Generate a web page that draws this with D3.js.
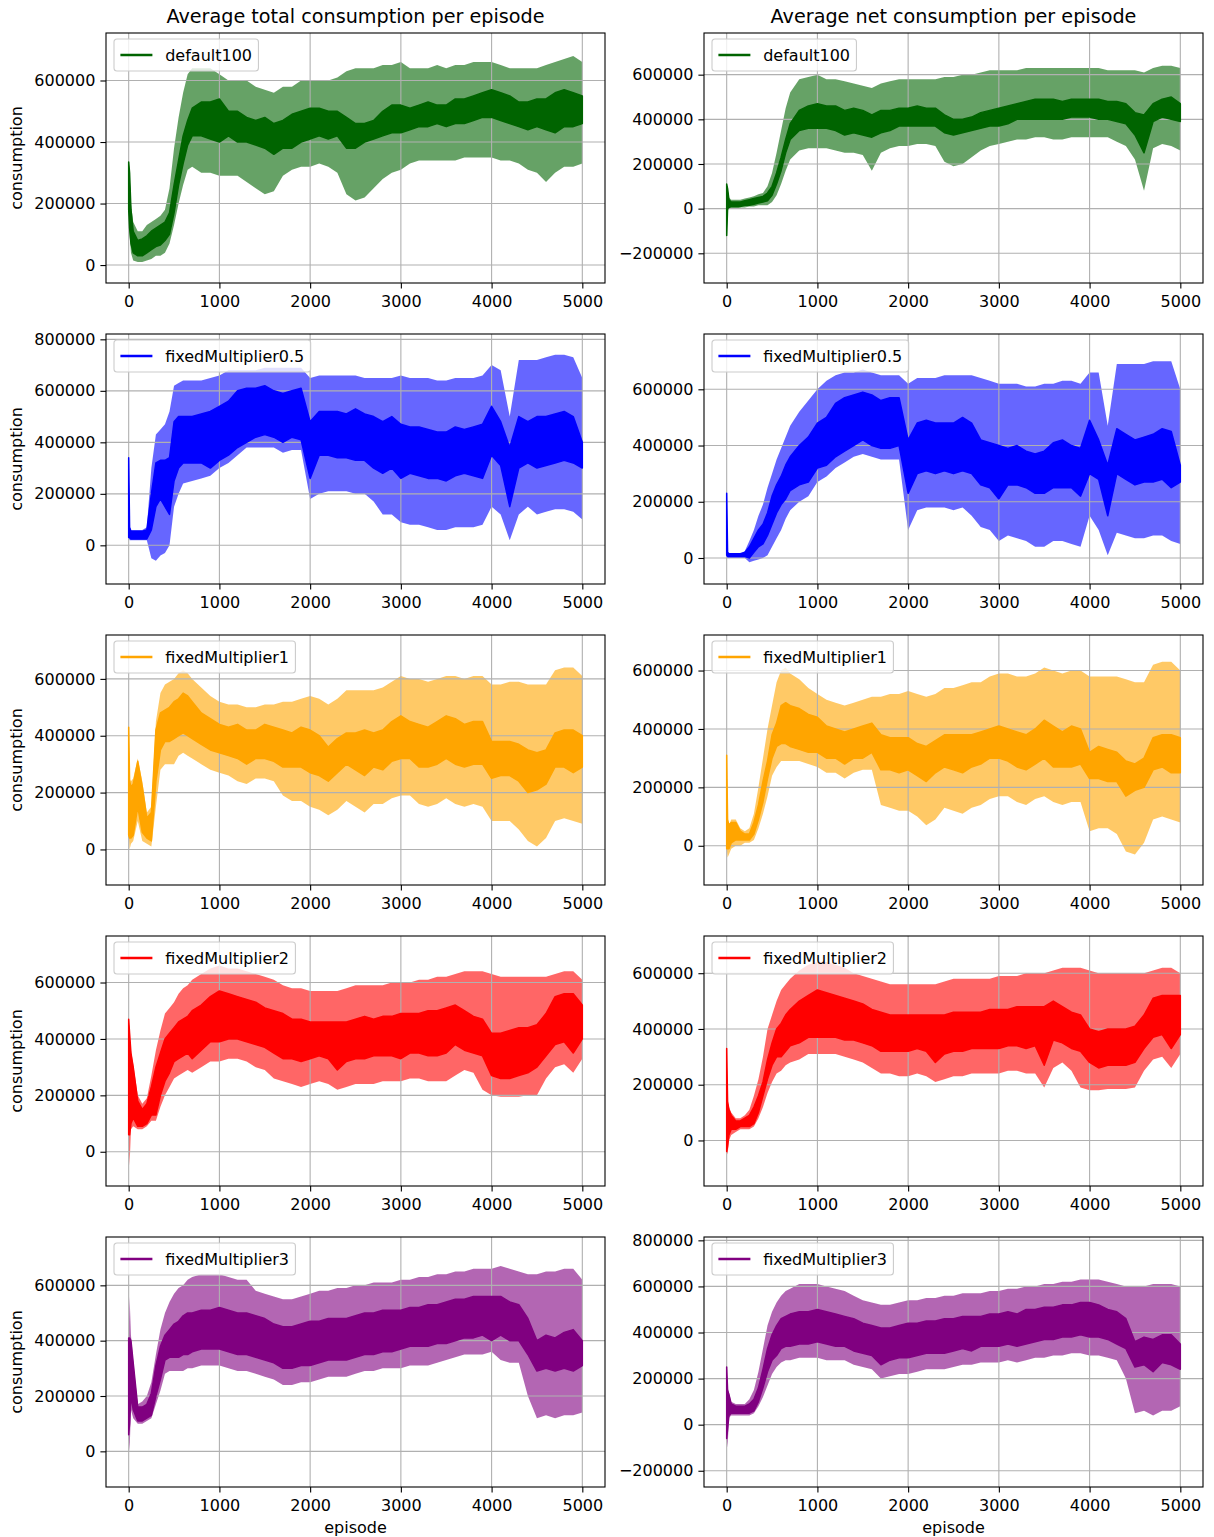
<!DOCTYPE html>
<html>
<head>
<meta charset="utf-8">
<script src="https://cdn.jsdelivr.net/npm/d3@7"></script>
<style>
  body { margin: 0; background: #fff; }
  svg text { font-family: "DejaVu Sans", sans-serif; fill: #000; }
</style>
</head>
<body>
<script>
// episode positions the values were read at
const episodes = [0,10,25,50,100,150,200,250,300,350,400,450,500,550,600,650,700,
  800,900,1000,1100,1200,1300,1400,1500,1600,1700,1800,1900,2000,2100,2200,2300,2400,2500,
  2600,2700,2800,2900,3000,3100,3200,3300,3400,3500,3600,3700,3800,3900,4000,4100,4200,4300,
  4400,4500,4600,4700,4800,4900,5000];

// all values in thousands
// total consumption, default100
const totalD100LineLo = [180,120,70,40,30,30,40,50,60,65,80,100,170,260,330,390,420, 420,410,400,420,400,400,390,380,360, 380,380,400,410,420,410,420,380,380, 400,410,420,430,430,440,450,450,460, 450,460,460,470,480,480,470,460,450, 440,450,440,430,450,450,460];
const totalD100LineHi = [335,300,180,110,80,85,95,110,120,130,140,170,260,340,420,470,510, 530,530,540,500,500,480,470,480,460, 470,490,500,510,510,500,500,480,460, 460,470,500,520,520,510,520,530,520, 520,540,540,550,560,570,560,550,530, 530,540,540,560,570,560,550];
const totalD100BandLo = [180,100,40,15,10,10,15,20,30,30,40,70,130,200,260,310,320, 300,300,290,290,290,270,250,230,240, 290,310,320,320,330,320,300,230,210, 220,250,280,300,310,330,340,340,340, 340,340,350,350,350,350,340,340,330, 310,300,270,300,320,320,330];
const totalD100BandHi = [340,300,200,140,110,110,130,140,150,160,180,250,380,480,560,620,640, 640,640,620,600,600,600,580,570,560, 580,580,600,600,600,600,610,630,640, 640,640,650,650,660,640,640,640,650, 640,650,650,660,660,660,650,640,640, 640,640,650,660,670,680,660];

// net consumption, default100
const netD100LineLo = [-120,0,5,10,10,10,15,15,20,25,30,35,60,110,170,250,310, 350,360,360,360,350,330,340,330,320, 340,350,370,370,370,370,370,340,330, 340,350,360,370,370,380,400,400,400, 400,400,400,410,410,410,400,400,390, 380,330,250,390,410,400,390];
const netD100LineHi = [110,90,40,30,30,30,35,40,45,50,55,70,100,160,230,310,380, 440,460,470,460,460,440,450,440,420, 440,440,450,450,460,450,450,420,400, 400,410,430,440,450,460,470,480,490, 490,490,480,490,490,490,490,480,480, 470,430,420,470,490,500,470];
const netD100BandLo = [-120,-10,0,0,0,5,5,10,10,15,15,15,30,60,110,170,220, 260,270,270,270,260,250,250,240,170, 250,270,280,280,290,290,280,210,190, 200,230,260,280,290,300,310,310,320, 320,310,310,320,320,320,320,320,300, 280,220,80,270,290,280,260];
const netD100BandHi = [110,90,50,40,40,40,45,50,55,65,70,100,160,250,350,450,520, 580,590,600,580,580,570,560,550,540, 560,570,580,580,580,580,580,590,590, 600,600,610,620,620,620,620,630,630, 630,630,630,630,630,630,630,620,620, 620,620,610,630,640,640,630];

// total consumption, fixedMultiplier0.5
const totalM05LineLo = [30,30,25,25,25,25,25,60,150,180,150,120,250,300,320,320,320, 320,300,330,350,380,400,420,430,420, 400,420,410,260,350,350,340,340,330, 330,300,280,300,260,280,270,260,260, 250,270,280,270,260,350,310,150,300, 320,300,310,320,330,320,300];
const totalM05LineHi = [340,70,55,55,55,55,60,200,320,330,330,340,480,500,500,500,500, 510,520,540,560,600,610,610,620,600, 590,600,610,480,520,520,520,510,530, 510,500,480,500,470,460,460,450,440, 440,460,450,460,470,540,480,380,500, 480,500,500,510,520,500,400];
const totalM05BandLo = [30,20,20,20,20,20,20,-50,-60,-40,-30,0,150,200,240,245,250, 260,270,300,320,350,380,380,380,380, 360,370,370,180,200,210,210,210,200, 200,170,120,120,90,80,80,70,60, 60,70,70,70,80,150,120,20,120, 150,120,130,140,140,130,100];
const totalM05BandHi = [340,70,60,60,60,60,70,300,430,450,470,520,620,630,640,640,640, 640,650,660,680,680,680,680,690,690, 690,690,690,650,660,660,660,660,660, 650,650,650,650,660,650,650,650,640, 640,650,650,650,660,700,680,500,720, 720,720,730,740,740,730,650];

// net consumption, fixedMultiplier0.5
const netM05LineLo = [10,5,5,5,5,5,5,0,20,40,50,80,120,160,190,210,240, 260,270,320,330,360,380,400,420,400, 390,390,400,230,300,310,300,310,300, 310,300,260,250,210,260,260,250,230, 230,250,250,250,220,300,280,150,300, 280,260,270,270,280,250,270];
const netM05LineHi = [230,20,15,15,15,15,20,40,70,100,120,160,220,260,290,330,360, 400,430,480,500,550,570,580,590,580, 560,570,570,420,480,490,480,480,480, 500,480,420,410,400,390,400,380,370, 380,410,420,400,390,490,420,330,460, 440,420,430,440,460,450,330];
const netM05BandLo = [10,0,0,0,0,0,0,-15,-10,-5,0,10,40,70,100,140,170, 200,220,270,290,320,340,360,370,360, 350,350,350,100,170,180,180,180,170, 180,150,110,100,60,80,70,60,40, 40,60,60,50,40,150,100,10,90, 80,70,70,80,80,60,50];
const netM05BandHi = [230,20,15,15,15,15,25,60,100,150,190,250,300,350,390,430,470, 520,560,600,630,650,660,660,670,660, 650,650,650,620,640,640,640,650,650, 650,650,640,630,620,620,620,610,610, 620,620,630,630,620,660,660,470,690, 690,690,690,700,700,700,600];

// total consumption, fixedMultiplier1
const totalM1LineLo = [50,40,40,50,150,60,40,30,240,350,380,380,390,400,410,400,390, 370,350,340,330,320,300,320,320,310, 290,290,290,270,260,240,270,300,280, 260,290,280,310,320,320,290,290,300, 320,300,290,300,300,250,260,260,240, 200,210,230,290,290,270,290];
const totalM1LineHi = [430,240,220,230,310,220,110,130,420,480,490,500,520,530,550,540,520, 480,460,440,430,440,420,420,440,430, 420,410,430,420,400,360,390,410,410, 420,410,420,450,470,450,440,430,450, 470,460,440,450,450,380,380,380,370, 350,340,350,410,420,420,400];
const totalM1BandLo = [50,0,20,30,100,30,20,10,150,280,300,300,300,330,340,330,320, 300,280,270,260,240,230,250,250,240, 190,170,170,150,140,120,140,170,150, 130,160,160,180,190,190,160,150,160, 180,160,150,160,150,100,100,100,70, 30,10,40,100,110,100,90];
const totalM1BandHi = [430,250,240,250,320,240,130,150,450,550,580,590,600,620,630,620,600, 570,540,520,510,510,500,500,510,510, 520,520,530,540,530,510,530,560,560, 560,560,570,590,610,600,600,590,600, 610,610,600,610,610,580,580,590,590, 580,580,580,630,640,640,610];

// net consumption, fixedMultiplier1
const netM1LineLo = [-10,-10,-10,10,20,20,20,20,40,90,150,230,300,340,350,350,340, 330,320,320,300,300,280,300,300,320, 260,260,250,260,240,220,250,270,260, 250,270,280,300,300,290,270,260,280, 300,270,270,270,280,230,230,220,220, 170,190,200,260,270,250,250];
const netM1LineHi = [310,90,70,80,80,50,40,40,80,140,220,290,380,420,480,490,480, 470,450,440,410,400,390,400,410,420, 380,370,370,370,350,340,360,380,380, 380,380,390,400,410,400,390,380,400, 430,410,390,410,400,320,340,330,320, 290,280,300,370,380,380,370];
const netM1BandLo = [-10,-40,-30,-10,0,0,10,10,20,60,110,170,240,270,290,290,290, 290,280,270,250,250,230,250,260,260, 140,130,120,120,100,70,90,130,120, 110,130,140,160,170,170,150,140,160, 170,150,140,150,150,50,60,60,40, -20,-30,10,90,100,90,80];
const netM1BandHi = [310,90,70,90,90,60,50,60,110,200,300,400,480,560,600,610,590, 570,540,520,500,490,480,490,500,510, 510,520,520,530,520,510,520,540,540, 550,560,560,580,590,590,580,580,590, 610,600,590,600,600,580,580,580,580, 570,560,560,620,630,630,600];

// total consumption, fixedMultiplier2
const totalM2LineLo = [60,60,100,120,90,90,100,130,130,200,250,280,320,330,340,350,330, 360,390,390,400,400,390,380,370,350, 330,330,320,330,340,330,290,320,330, 330,340,340,340,330,350,350,340,340, 350,380,360,350,340,270,260,260,270, 280,300,340,380,390,350,400];
const totalM2LineHi = [470,420,350,300,180,150,170,230,300,350,400,420,440,460,470,480,500, 520,550,570,560,550,540,530,510,500, 490,470,470,460,460,460,460,460,470, 480,470,480,480,490,490,490,500,500, 510,520,500,480,470,420,420,430,440, 440,450,490,550,560,560,520];
const totalM2BandLo = [40,-50,80,90,80,80,90,110,110,160,200,230,260,270,280,290,280, 300,320,320,330,330,320,300,290,260, 250,240,230,240,250,240,220,230,240, 240,240,250,250,250,260,260,250,250, 250,270,290,280,220,200,195,195,195, 200,200,260,300,310,280,330];
const totalM2BandHi = [470,420,360,310,200,170,190,270,360,430,490,510,530,560,580,590,610, 630,650,660,650,650,640,630,620,610, 590,580,580,570,570,570,570,580,590, 590,590,590,600,600,600,610,610,620, 620,630,640,640,640,630,620,620,620, 620,620,620,630,640,640,610];

// net consumption, fixedMultiplier2
const netM2LineLo = [-40,-20,20,40,40,50,50,50,60,100,160,220,270,300,300,320,340, 350,370,370,370,370,360,360,350,340, 320,320,320,320,330,320,280,310,320, 320,330,330,330,330,340,340,330,340, 270,360,350,330,320,280,260,270,270, 270,280,330,370,380,330,380];
const netM2LineHi = [330,140,110,90,70,70,80,90,120,160,210,290,350,400,420,450,470, 500,520,540,530,520,510,500,490,470, 460,450,450,450,450,450,450,450,460, 460,460,460,470,470,470,480,480,480, 480,500,480,460,450,400,390,400,400, 400,410,450,510,520,520,520];
const netM2BandLo = [-40,-50,0,20,30,40,40,40,50,80,120,170,210,240,250,270,280, 290,310,310,310,310,300,290,280,260, 240,240,230,230,240,230,210,220,230, 230,240,240,240,240,250,250,240,240, 190,260,280,250,190,180,180,185,185, 185,190,250,290,300,260,310];
const netM2BandHi = [330,140,120,100,80,80,90,110,160,220,300,400,450,500,540,560,580, 610,630,640,640,630,620,600,590,580, 570,560,560,560,560,560,560,570,580, 580,580,580,580,590,590,590,600,600, 600,610,620,620,620,610,600,600,600, 600,600,600,610,620,620,600];

// total consumption, fixedMultiplier3
const totalM3LineLo = [60,100,200,150,110,110,120,130,200,260,330,340,340,340,350,350,360, 370,370,370,360,350,350,340,330,320, 300,300,310,310,320,330,330,330,340, 350,350,360,360,370,380,380,380,390, 390,400,410,410,420,400,420,400,400, 350,290,300,290,300,290,310];
const totalM3LineHi = [410,410,400,320,160,160,170,210,310,380,420,440,460,470,490,500,500, 510,510,520,510,500,500,490,480,460, 450,450,460,470,470,480,480,480,490, 500,500,510,510,510,520,520,530,530, 540,550,550,560,560,560,560,540,530, 480,400,420,410,430,440,400];
const totalM3BandLo = [50,0,150,120,100,100,110,120,170,220,280,290,290,290,290,300,300, 310,310,310,300,290,290,280,270,260, 240,240,250,250,260,270,270,270,280, 290,290,300,300,300,310,310,310,320, 330,340,350,350,350,360,330,320,320, 200,120,130,120,130,130,140];
const totalM3BandHi = [420,560,420,330,170,180,200,250,350,440,500,540,570,590,600,620,630, 640,640,640,630,620,620,580,570,560, 550,550,560,570,580,580,590,590,600, 600,610,610,610,620,620,630,630,640, 640,650,650,660,660,660,670,660,650, 640,640,650,650,660,660,620];

// net consumption, fixedMultiplier3
const netM3LineLo = [-60,-20,40,50,50,50,50,50,60,100,160,230,280,300,330,340,340, 350,350,360,350,340,340,320,310,300, 260,280,290,290,300,310,310,310,320, 330,320,340,340,340,350,340,350,360, 370,370,380,380,390,380,380,370,350, 330,250,260,230,270,260,240];
const netM3LineHi = [250,150,130,90,80,80,80,90,110,160,240,330,390,430,460,470,480, 490,490,500,490,480,470,460,440,430, 420,420,430,440,440,450,450,460,460, 470,470,470,480,480,490,480,500,500, 510,510,520,520,530,530,520,500,490, 460,360,380,370,390,390,350];
const netM3BandLo = [-60,-100,30,40,40,40,40,40,50,80,120,170,220,250,270,280,280, 290,290,290,280,280,280,260,250,240, 200,210,220,220,230,240,240,240,250, 260,260,270,270,270,280,270,280,290, 290,300,300,310,310,300,300,290,280, 200,50,60,40,60,60,80];
const netM3BandHi = [250,160,140,100,90,90,90,110,150,230,330,430,490,530,560,580,590, 610,610,610,600,590,580,560,540,530, 520,520,530,540,540,550,550,560,560, 570,570,570,580,580,590,590,600,600, 610,610,620,620,630,630,630,620,610, 600,600,600,610,610,610,600];

const xTicks = [0, 1000, 2000, 3000, 4000, 5000];
const titles = ['Average total consumption per episode', 'Average net consumption per episode'];

//panel table built from the arrays above
const panels = [
  {col: 0, row: 0, label: 'default100', color: 'darkgreen', yDomain: [-58300, 754400], yTicks: [0, 200000, 400000, 600000],
   lineLo: totalD100LineLo, lineHi: totalD100LineHi, bandLo: totalD100BandLo, bandHi: totalD100BandHi},
  {col: 1, row: 0, label: 'default100', color: 'darkgreen', yDomain: [-333000, 786600], yTicks: [-200000, 0, 200000, 400000, 600000],
   lineLo: netD100LineLo, lineHi: netD100LineHi, bandLo: netD100BandLo, bandHi: netD100BandHi},
  {col: 0, row: 1, label: 'fixedMultiplier0.5', color: 'blue', yDomain: [-150200, 820700], yTicks: [0, 200000, 400000, 600000, 800000],
   lineLo: totalM05LineLo, lineHi: totalM05LineHi, bandLo: totalM05BandLo, bandHi: totalM05BandHi},
  {col: 1, row: 1, label: 'fixedMultiplier0.5', color: 'blue', yDomain: [-92500, 796700], yTicks: [0, 200000, 400000, 600000],
   lineLo: netM05LineLo, lineHi: netM05LineHi, bandLo: netM05BandLo, bandHi: netM05BandHi},
  {col: 0, row: 2, label: 'fixedMultiplier1', color: 'orange', yDomain: [-125100, 754400], yTicks: [0, 200000, 400000, 600000],
   lineLo: totalM1LineLo, lineHi: totalM1LineHi, bandLo: totalM1BandLo, bandHi: totalM1BandHi},
  {col: 1, row: 2, label: 'fixedMultiplier1', color: 'orange', yDomain: [-134300, 721700], yTicks: [0, 200000, 400000, 600000],
   lineLo: netM1LineLo, lineHi: netM1LineHi, bandLo: netM1BandLo, bandHi: netM1BandHi},
  {col: 0, row: 3, label: 'fixedMultiplier2', color: 'red', yDomain: [-121400, 764900], yTicks: [0, 200000, 400000, 600000],
   lineLo: totalM2LineLo, lineHi: totalM2LineHi, bandLo: totalM2BandLo, bandHi: totalM2BandHi},
  {col: 1, row: 3, label: 'fixedMultiplier2', color: 'red', yDomain: [-163400, 733500], yTicks: [0, 200000, 400000, 600000],
   lineLo: netM2LineLo, lineHi: netM2LineHi, bandLo: netM2BandLo, bandHi: netM2BandHi},
  {col: 0, row: 4, label: 'fixedMultiplier3', color: 'purple', yDomain: [-128900, 774700], yTicks: [0, 200000, 400000, 600000],
   lineLo: totalM3LineLo, lineHi: totalM3LineHi, bandLo: totalM3BandLo, bandHi: totalM3BandHi},
  {col: 1, row: 4, label: 'fixedMultiplier3', color: 'purple', yDomain: [-270500, 814500], yTicks: [-200000, 0, 200000, 400000, 600000, 800000],
   lineLo: netM3LineLo, lineHi: netM3LineHi, bandLo: netM3BandLo, bandHi: netM3BandHi}
];

//set up svg
const SVGWIDTH = 1214;
const SVGHEIGHT = 1537;
const COLX = [106, 704];
const ROWY = [33, 334, 635, 936, 1237];
const AXW = 499;
const AXH = 250;
const TICKLEN = 5.6;

let svg = d3.select('body')
  .append('svg')
  .attr('width', SVGWIDTH)
  .attr('height', SVGHEIGHT);

const x = d3.scaleLinear().domain([-250, 5250]).range([0, AXW]);

panels.forEach(function(p, i) {
  const g = svg.append('g')
    .attr('transform', `translate(${COLX[p.col]}, ${ROWY[p.row]})`);
  const y = d3.scaleLinear().domain(p.yDomain).range([AXH, 0]);

  const rows = episodes.map((e, j) => ({
    e: e,
    bl: p.bandLo[j] * 1000, bh: p.bandHi[j] * 1000,
    ll: p.lineLo[j] * 1000, lh: p.lineHi[j] * 1000
  }));

  g.append('clipPath').attr('id', 'clip' + i)
    .append('rect').attr('width', AXW).attr('height', AXH);
  const plot = g.append('g').attr('clip-path', `url(#clip${i})`);

  // shaded spread
  plot.append('path')
    .datum(rows)
    .attr('d', d3.area().x(d => x(d.e)).y0(d => y(d.bl)).y1(d => y(d.bh)))
    .attr('fill', p.color)
    .attr('fill-opacity', 0.6);

  // grid sits above the band, below the line
  plot.selectAll('.gridx').data(xTicks).enter().append('line')
    .attr('x1', d => x(d)).attr('x2', d => x(d))
    .attr('y1', 0).attr('y2', AXH)
    .attr('stroke', '#b0b0b0').attr('stroke-width', 1.1);
  plot.selectAll('.gridy').data(p.yTicks).enter().append('line')
    .attr('x1', 0).attr('x2', AXW)
    .attr('y1', d => y(d)).attr('y2', d => y(d))
    .attr('stroke', '#b0b0b0').attr('stroke-width', 1.1);

  // noisy mean line, drawn as its envelope
  plot.append('path')
    .datum(rows)
    .attr('d', d3.area().x(d => x(d.e)).y0(d => y(d.ll)).y1(d => y(d.lh)))
    .attr('fill', p.color)
    .attr('stroke', p.color)
    .attr('stroke-width', 1.5)
    .attr('stroke-linejoin', 'round');

  // axes
  const bottomAxis = d3.axisBottom(x).tickValues(xTicks)
    .tickSize(TICKLEN).tickSizeOuter(0).tickPadding(7).tickFormat(d3.format('d'));
  const leftAxis = d3.axisLeft(y).tickValues(p.yTicks)
    .tickSize(TICKLEN).tickSizeOuter(0).tickPadding(5).tickFormat(d3.format('d'));

  const xa = g.append('g').attr('transform', `translate(0, ${AXH})`).call(bottomAxis);
  const ya = g.append('g').call(leftAxis);
  [xa, ya].forEach(a => {
    a.select('.domain').remove();
    a.selectAll('line').attr('stroke', '#000').attr('stroke-width', 1.1);
    a.selectAll('text').attr('font-size', 16).attr('font-family', 'DejaVu Sans').attr('fill', '#000');
  });

  // frame
  g.append('rect')
    .attr('width', AXW).attr('height', AXH)
    .attr('fill', 'none').attr('stroke', '#000').attr('stroke-width', 1.1);

  // legend
  const lg = g.append('g').attr('transform', 'translate(8, 6)');
  const box = lg.append('rect');
  lg.append('line')
    .attr('x1', 6.4).attr('x2', 38.4).attr('y1', 16).attr('y2', 16)
    .attr('stroke', p.color).attr('stroke-width', 2.4);
  const lt = lg.append('text')
    .attr('x', 51.2).attr('y', 16).attr('dy', '0.36em')
    .attr('font-size', 16)
    .text(p.label);
  const tw = lt.node().getComputedTextLength();
  box.attr('width', 51.2 + tw + 6.4).attr('height', 32)
    .attr('rx', 3).attr('ry', 3)
    .attr('fill', '#fff').attr('fill-opacity', 0.8)
    .attr('stroke', '#cccccc').attr('stroke-width', 1.1);

  // labels
  if (p.row === 0) {
    g.append('text')
      .attr('x', AXW / 2).attr('y', -10)
      .attr('text-anchor', 'middle')
      .attr('font-size', 19.2)
      .text(titles[p.col]);
  }
  if (p.col === 0) {
    g.append('text')
      .attr('transform', `translate(${16 - COLX[0]}, ${AXH / 2}) rotate(-90)`)
      .attr('text-anchor', 'middle')
      .attr('dy', '0.35em')
      .attr('font-size', 16)
      .text('consumption');
  }
  if (p.row === 4) {
    g.append('text')
      .attr('x', AXW / 2).attr('y', AXH + 46)
      .attr('text-anchor', 'middle')
      .attr('font-size', 16)
      .text('episode');
  }
});
</script>
</body>
</html>
